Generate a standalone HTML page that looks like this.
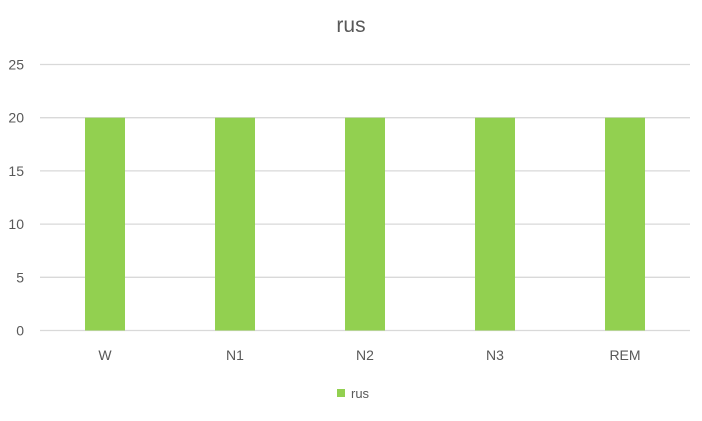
<!DOCTYPE html>
<html><head><meta charset="utf-8"><style>
body{margin:0;background:#fff;font-family:"Liberation Sans",sans-serif;}
svg text{font-family:"Liberation Sans",sans-serif;fill:#595959;}
</style></head><body>
<svg id="c" width="702" height="416" xmlns="http://www.w3.org/2000/svg">
<rect width="702" height="416" fill="#fff"/>
<text x="351" y="32" font-size="21" text-anchor="middle">rus</text>
<g id="grid"></g><g id="bars"></g><g id="xl"></g>
<g>
<rect x="337" y="389" width="8" height="8" fill="#92D050"/>
<text x="351" y="398" font-size="13">rus</text>
</g>
</svg>
<script>
const categories=["W","N1","N2","N3","REM"];
const values=[20,20,20,20,20];
const ticks=[0,5,10,15,20,25];
const NS="http://www.w3.org/2000/svg";
const x0=40,x1=690,yTop=64.5,yBot=330.5,maxV=25;
const y=v=>yBot-(v/maxV)*(yBot-yTop);
const band=(x1-x0)/categories.length;
const xc=i=>x0+band*(i+0.5);
function mk(t,a,p){const e=document.createElementNS(NS,t);for(const k in a)e.setAttribute(k,a[k]);p.appendChild(e);return e;}
const g=document.getElementById('grid'),b=document.getElementById('bars'),xl=document.getElementById('xl');
ticks.forEach(t=>{
const l=mk('line',{x1:x0,x2:x1,y1:y(t),y2:y(t),stroke:'#d9d9d9','stroke-width':1.3},g);


const tx=mk('text',{x:24,y:y(t)+5,'font-size':14,'text-anchor':'end'},g);tx.textContent=t;


});
categories.forEach((c,i)=>{
const r=mk('rect',{x:xc(i)-20,y:y(values[i]),width:40,height:yBot-y(values[i]),fill:'#92D050'},b);


const t=mk('text',{x:xc(i),y:360,'font-size':14,'text-anchor':'middle'},xl);t.textContent=c;


});
</script>
</body></html>
